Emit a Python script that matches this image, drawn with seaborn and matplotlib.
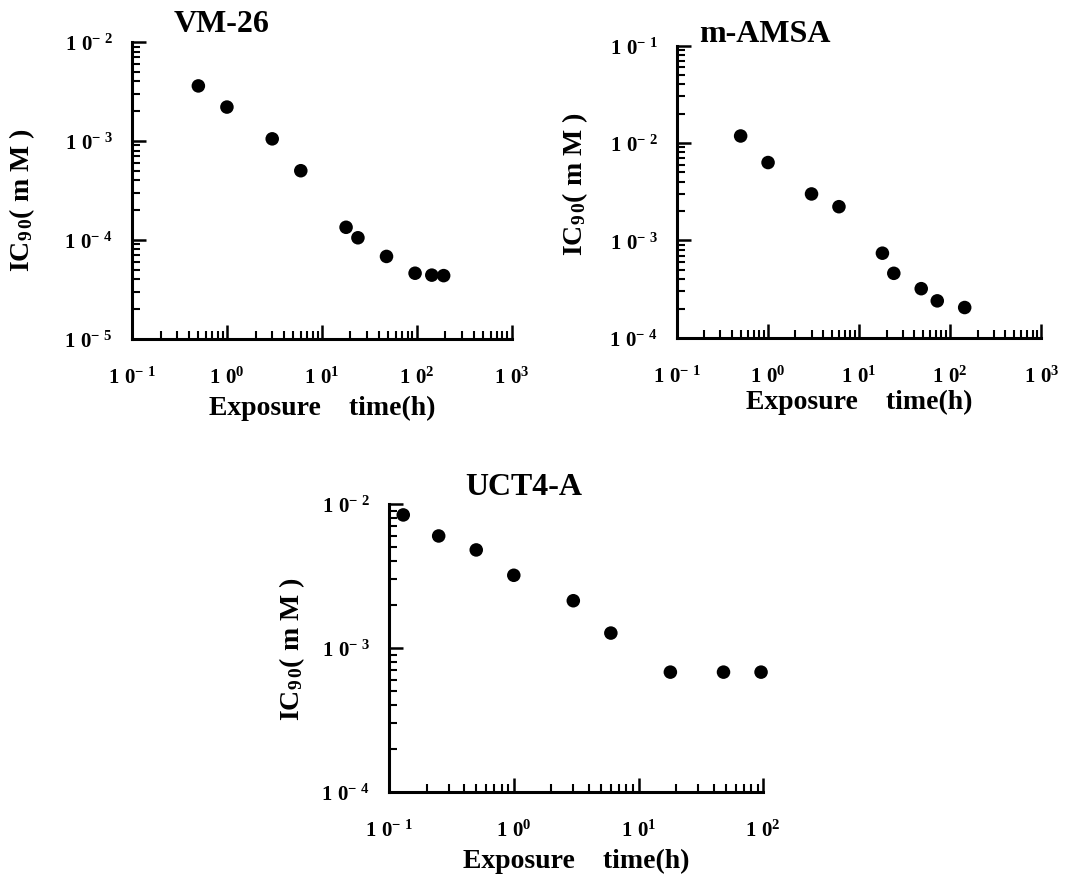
import matplotlib
matplotlib.use("Agg")
import matplotlib.pyplot as plt
import matplotlib.ticker as mticker
import seaborn as sns
import pandas as pd
import numpy as np

# data (exposure time in h, IC90 in mM)
vm26_time = [0.5, 1, 3, 6, 18, 24, 48, 96, 144, 192]
vm26_ic90 = [3.6e-3, 2.2e-3, 1.05e-3, 5.0e-4, 1.34e-4, 1.05e-4, 6.8e-5, 4.6e-5, 4.4e-5, 4.35e-5]

amsa_time = [0.5, 1, 3, 6, 18, 24, 48, 72, 144]
amsa_ic90 = [1.18e-2, 6.3e-3, 3.0e-3, 2.22e-3, 7.4e-4, 4.6e-4, 3.2e-4, 2.4e-4, 2.05e-4]

uct_time = [0.13, 0.25, 0.5, 1, 3, 6, 18, 48, 96]
uct_ic90 = [8.4e-3, 6.0e-3, 4.8e-3, 3.2e-3, 2.13e-3, 1.27e-3, 6.8e-4, 6.8e-4, 6.8e-4]

titles = ["VM-26", "m-AMSA", "UCT4-A"]

sns.set_style("ticks")
plt.rcParams['font.family'] = ['Liberation Serif', 'DejaVu Serif']
plt.rcParams['font.weight'] = 'bold'
plt.rcParams['mathtext.fontset'] = 'custom'
plt.rcParams['mathtext.rm'] = 'Liberation Serif:bold'
plt.rcParams['mathtext.it'] = 'Liberation Serif:bold'
plt.rcParams['mathtext.bf'] = 'Liberation Serif:bold'
for key in ['text.color', 'axes.labelcolor', 'xtick.color', 'ytick.color']:
    plt.rcParams[key] = 'black'


def pow_fmt(v, pos):
    e = int(round(np.log10(v)))
    if e < 0:
        return r'$\mathbf{1\ 0^{-\ %d}}$' % (-e)
    return r'$\mathbf{1\ 0^{%d}}$' % e


fig = plt.figure(figsize=(10.91, 8.78), dpi=100)

# axes boxes [left, bottom, width, height]
boxes = [
    [0.121, 0.613, 0.348, 0.338],
    [0.6205, 0.614, 0.334, 0.333],
    [0.3566, 0.0968, 0.343, 0.328],
]
xlims = [(0.1, 1000), (0.1, 1000), (0.1, 100)]
ylims = [(1e-5, 1e-2), (1e-4, 1e-1), (1e-4, 1e-2)]
title_x = [0.237, 0.24, 0.36]
title_y = [1.012, 0.99, 1.012]
xlabel_y = [-0.19, -0.175, -0.195]
ylabel_pos = [(-0.25, 0.47), (-0.24, 0.53), (-0.22, 0.5)]

datasets = [
    pd.DataFrame({'time': vm26_time, 'ic90': vm26_ic90}),
    pd.DataFrame({'time': amsa_time, 'ic90': amsa_ic90}),
    pd.DataFrame({'time': uct_time, 'ic90': uct_ic90}),
]

for i, df in enumerate(datasets):
    ax = fig.add_axes(boxes[i])
    sns.scatterplot(data=df, x='time', y='ic90', ax=ax, color='black',
                    s=95, edgecolor='none', zorder=3, clip_on=False)
    ax.set_xscale('log')
    ax.set_yscale('log')
    ax.set_xlim(*xlims[i])
    ax.set_ylim(*ylims[i])
    sns.despine(ax=ax)
    for sp in ['left', 'bottom']:
        ax.spines[sp].set_linewidth(2.2)
        ax.spines[sp].set_color('black')
    ax.xaxis.set_major_locator(mticker.LogLocator(base=10))
    ax.yaxis.set_major_locator(mticker.LogLocator(base=10))
    ax.xaxis.set_minor_locator(mticker.LogLocator(base=10, subs=np.arange(2, 10)))
    ax.yaxis.set_minor_locator(mticker.LogLocator(base=10, subs=np.arange(2, 10)))
    ax.xaxis.set_minor_formatter(mticker.NullFormatter())
    ax.yaxis.set_minor_formatter(mticker.NullFormatter())
    ax.xaxis.set_major_formatter(mticker.FuncFormatter(pow_fmt))
    ax.yaxis.set_major_formatter(mticker.FuncFormatter(pow_fmt))
    ax.tick_params(which='major', direction='in', length=10, width=1.8, labelsize=15)
    ax.tick_params(which='minor', direction='in', length=6, width=1.5)
    ax.tick_params(axis='x', which='major', pad=20)
    ax.tick_params(axis='y', which='major', pad=14)
    ax.set_xlabel('Exposure    time(h)', fontsize=20, fontweight='bold')
    ax.set_ylabel(r'IC$_{9\,0}$( m M )', fontsize=20, fontweight='bold')
    ax.xaxis.set_label_coords(0.5, xlabel_y[i])
    ax.yaxis.set_label_coords(*ylabel_pos[i])
    ax.text(title_x[i], title_y[i], titles[i], transform=ax.transAxes, ha='center', va='bottom',
            fontsize=23, fontweight='bold')

fig.savefig('out.png', dpi=100)
